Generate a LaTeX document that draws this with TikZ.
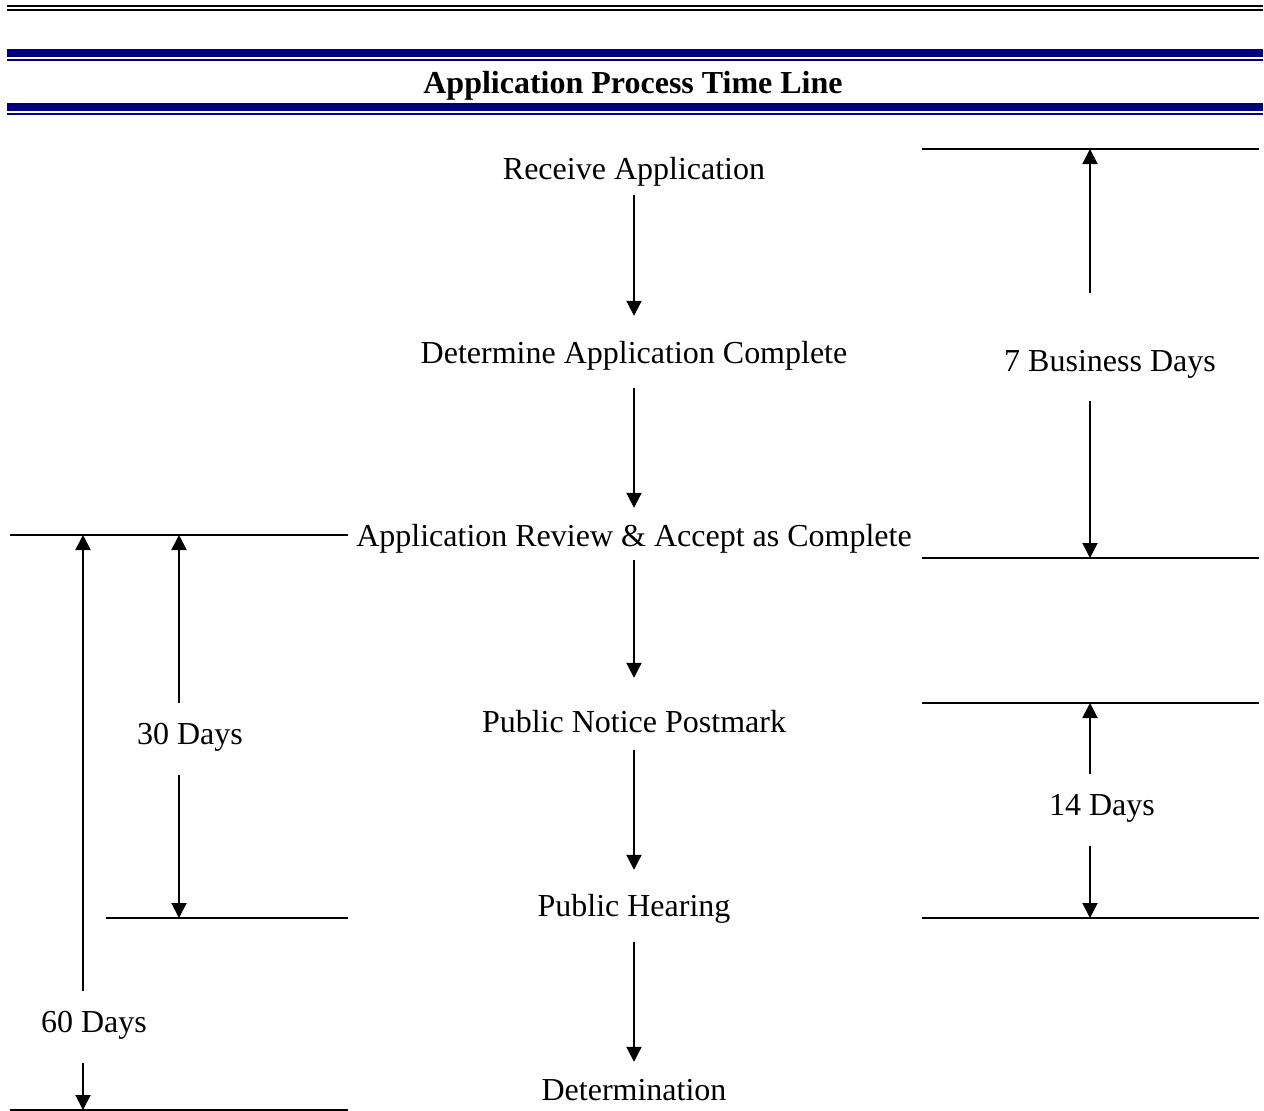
\documentclass[tikz,border=0pt]{standalone}
\usepackage{fontspec}
\setmainfont{Liberation Serif}
\usetikzlibrary{arrows.meta, positioning}

\definecolor{navyrule}{HTML}{000080}

\begin{document}
\begin{tikzpicture}[x=1pt, y=-1pt,
    stage/.style={inner sep=0pt, anchor=base, text height=22pt, text depth=7pt, font=\fontsize{32}{38}\selectfont},
    spanlbl/.style={inner sep=0pt, anchor=base, text height=41pt, text depth=31pt, font=\fontsize{32}{38}\selectfont},
    titletext/.style={inner sep=0pt, anchor=base, font=\fontsize{32}{38}\selectfont\bfseries},
    flow/.style={draw, line width=2pt, -{Triangle[length=15pt, width=15pt]}},
    limit/.style={draw, line width=2pt},
    blackrule/.style={draw, black, line width=2pt},
    navybar/.style={draw, navyrule, line width=8pt},
    navythin/.style={draw, navyrule, line width=2pt}
]
\useasboundingbox (0,0) rectangle (1264,1111);

% ─── Header Rules ────────────────────────────────────────────────────
\foreach \y in {6, 10} {
    \draw[blackrule] (7,\y) -- (1263,\y);
}
\foreach \y in {53, 107} {
    \draw[navybar] (7,\y) -- (1263,\y);
    \draw[navythin] (7,\y+7) -- (1263,\y+7);
}
\node[titletext] (title) at (633, 93) {Application Process Time Line};

% ─── Process Steps (centre column) ───────────────────────────────────
\node[stage] (recv)    at (634, 179)  {Receive Application};
\node[stage] (det)     at (634, 363)  {Determine Application Complete};
\node[stage] (review)  at (634, 546)  {Application Review \& Accept as Complete};
\node[stage] (notice)  at (634, 732)  {Public Notice Postmark};
\node[stage] (hearing) at (634, 916)  {Public Hearing};
\node[stage] (determ)  at (634, 1100) {Determination};

\foreach \a/\b/\s/\e in {recv/det/9/25, det/review/18/16, review/notice/7/32, notice/hearing/11/24, hearing/determ/19/16} {
    \draw[flow, shorten <=\s pt, shorten >=\e pt] (\a.south) -- (\b.north);
}

% ─── Right Spans (7 Business Days, 14 Days) ──────────────────────────
\coordinate (r7top) at (1090, 149);
\coordinate (r7bot) at (1090, 558);
\coordinate (r14top) at (1090, 703);
\coordinate (r14bot) at (1090, 918);
\foreach \y in {149, 558, 703, 918} {
    \draw[limit] (922,\y) -- (1259,\y);
}

\node[spanlbl, text height=78pt, text depth=30pt] (bd7) at (1110, 371) {7 Business Days};
\draw[flow] (r7top |- bd7.north) -- (r7top);
\draw[flow] (r7bot |- bd7.south) -- (r7bot);

\node[spanlbl] (d14) at (1102, 815) {14 Days};
\draw[flow] (r14top |- d14.north) -- (r14top);
\draw[flow] (r14bot |- d14.south) -- (r14bot);

% ─── Left Spans (30 Days, 60 Days) ───────────────────────────────────
\coordinate (l30top) at (179, 535);
\coordinate (l30bot) at (179, 918);
\coordinate (l60top) at (83, 535);
\coordinate (l60bot) at (83, 1110);
\draw[limit] (10,535) -- (348,535);
\draw[limit] (106,918) -- (348,918);
\draw[limit] (10,1110) -- (348,1110);

\node[spanlbl] (d30) at (190, 744) {30 Days};
\draw[flow] (l30top |- d30.north) -- (l30top);
\draw[flow] (l30bot |- d30.south) -- (l30bot);

\node[spanlbl] (d60) at (94, 1032) {60 Days};
\draw[flow] (l60top |- d60.north) -- (l60top);
\draw[flow] (l60bot |- d60.south) -- (l60bot);

\end{tikzpicture}
\end{document}
